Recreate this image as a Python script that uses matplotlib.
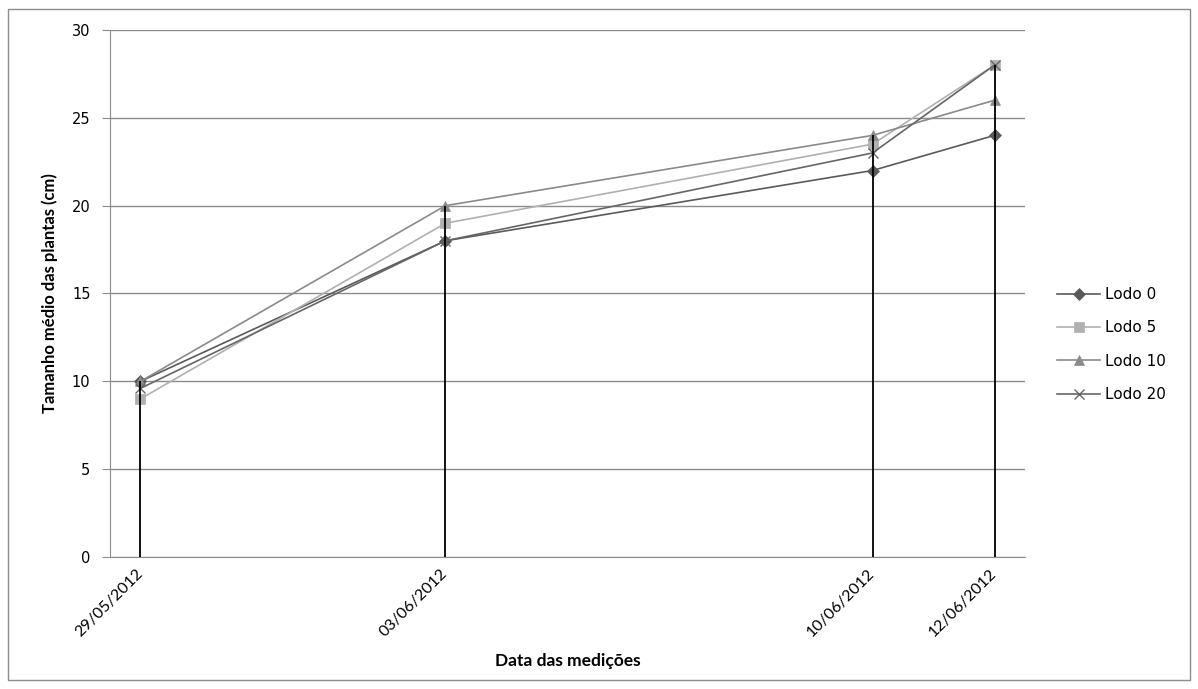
import datetime as dt

import matplotlib
matplotlib.use("Agg")
import matplotlib.pyplot as plt
import matplotlib.dates as mdates
from matplotlib.patches import Rectangle

datas = [dt.date(2012, 5, 29), dt.date(2012, 6, 3), dt.date(2012, 6, 10), dt.date(2012, 6, 12)]
rotulos = ["29/05/2012", "03/06/2012", "10/06/2012", "12/06/2012"]

lodo_0 = [10, 18, 22, 24]
lodo_5 = [9, 19, 23.5, 28]
lodo_10 = [10, 20, 24, 26]
lodo_20 = [9.6, 18, 23, 28]

series = [
    ("Lodo 0", lodo_0, "#5a5a5a", "D", 6),
    ("Lodo 5", lodo_5, "#b0b0b0", "s", 7),
    ("Lodo 10", lodo_10, "#8a8a8a", "^", 7),
    ("Lodo 20", lodo_20, "#666666", "x", 7),
]

fonte_titulo = ["Lato", "DejaVu Sans"]

fig = plt.figure(figsize=(11.98, 6.89), dpi=100)
ax = fig.add_axes([0.0918, 0.1916, 0.7638, 0.7649])

# moldura da área do gráfico
fig.patches.append(Rectangle((0.007, 0.013), 0.986, 0.974, transform=fig.transFigure,
                             fill=False, edgecolor="#8c8c8c", linewidth=1.0))

for nome, valores, cor, marc, tam in series:
    ax.plot(datas, valores, color=cor, marker=marc, markersize=tam, linewidth=1.2,
            markeredgewidth=1.0 if marc == "x" else 0.5, label=nome, zorder=3)

# linhas de queda (drop lines)
topo = [max(v) for v in zip(lodo_0, lodo_5, lodo_10, lodo_20)]
ax.vlines(datas, 0, topo, color="black", linewidth=1.3, zorder=4)

ax.set_ylim(0, 30)
ax.set_yticks(range(0, 31, 5))
ax.set_xlim(mdates.date2num(datas[0]) - 0.5, mdates.date2num(datas[-1]) + 0.5)
ax.set_xticks(datas)
ax.set_xticklabels(rotulos, rotation=45, ha="right", va="center", rotation_mode="anchor",
                   fontsize=11.5, family=fonte_titulo)
ax.tick_params(axis="x", length=0, pad=10)
ax.tick_params(axis="y", length=6, color="#8c8c8c", labelsize=10.5, pad=8)

ax.grid(axis="y", color="#8c8c8c", linewidth=1.0)
ax.set_axisbelow(True)
for lado in ["top", "right"]:
    ax.spines[lado].set_visible(False)
for lado in ["left", "bottom"]:
    ax.spines[lado].set_color("#8c8c8c")

ax.set_ylabel("Tamanho médio das plantas (cm)", fontsize=12, fontweight="bold",
              family=fonte_titulo, labelpad=10)
ax.set_xlabel("Data das medições", fontsize=12.5, fontweight="bold",
              family=fonte_titulo, labelpad=10)

ax.legend(loc="center left", bbox_to_anchor=(0.871, 0.5), bbox_transform=fig.transFigure,
          frameon=False, fontsize=11, handlelength=2.8, labelspacing=1.2, handletextpad=0.3)

fig.savefig("out.png", dpi=100)
